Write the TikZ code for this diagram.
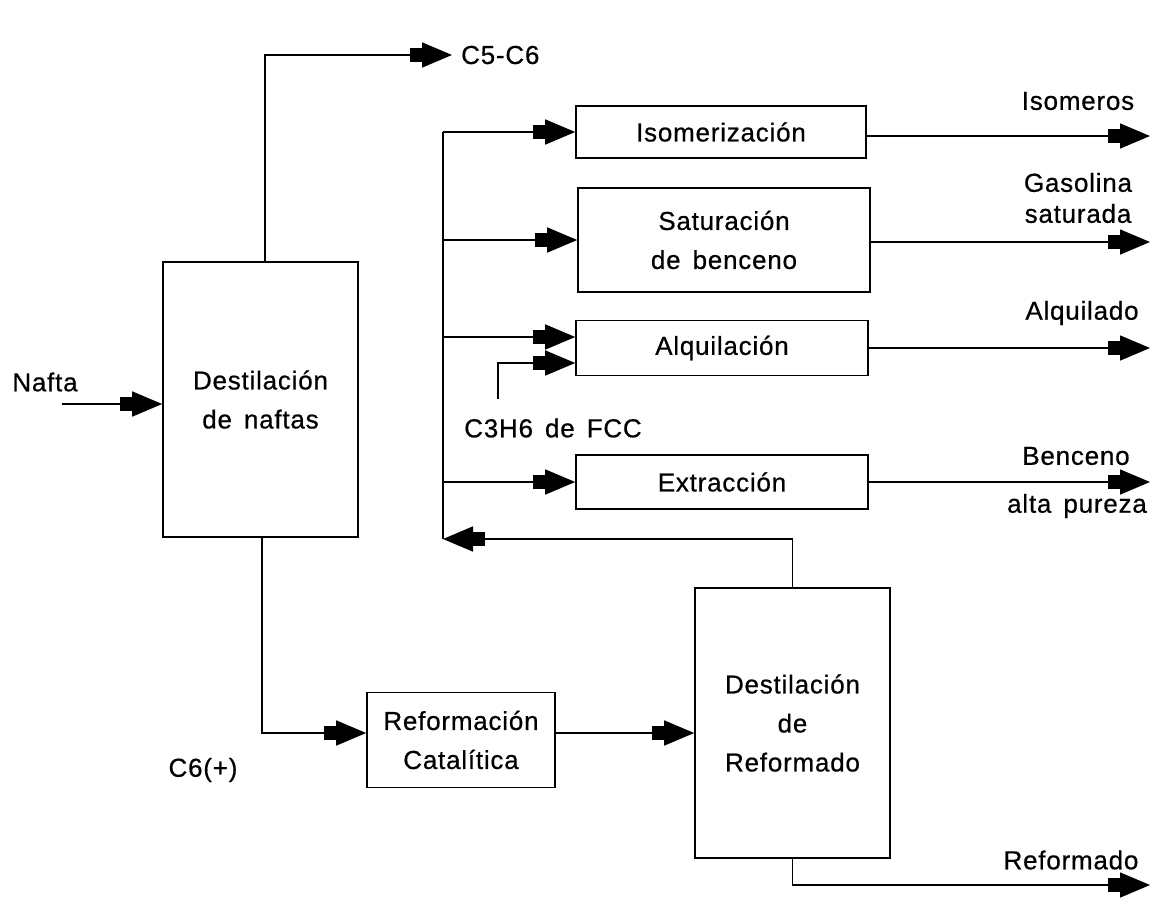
\documentclass[tikz,border=0pt]{standalone}
\usepackage{fontspec}
\setmainfont{Liberation Sans}[LetterSpace=3, WordSpace=1.5, FakeBold=0.6]
\usetikzlibrary{arrows.meta}

\tikzset{
  box/.style={draw, line width=1.6pt, inner sep=0pt, align=center,
              font=\fontsize{26}{39}\selectfont},
  lbl/.style={inner sep=0pt, align=center, font=\fontsize{26}{31}\selectfont},
  pipe/.style={line width=1.6pt},
  flow/.style={line width=1.6pt,
    -{Rectangle[length=12pt,width=14pt,sep=0pt]Triangle[length=30pt,width=25pt]}},
}

\begin{document}
\begin{tikzpicture}[x=1pt,y=-1pt]
\useasboundingbox (0,0) rectangle (1152,906);

% process units
\node[box, minimum width=195pt, minimum height=275pt] (destN) at (260.5,399.5)
  {Destilación\\de naftas};
\node[box, minimum width=188pt, minimum height=95pt] (reform) at (461,740)
  {Reformación\\Catalítica};
\node[box, minimum width=195pt, minimum height=270pt] (destR) at (792.5,723)
  {Destilación\\de\\Reformado};
\node[box, minimum width=290pt, minimum height=52pt] (iso) at (721,132)
  {Isomerización};
\node[box, minimum width=292pt, minimum height=104pt] (sat) at (724,240)
  {Saturación\\de benceno};
\node[box, minimum width=292pt, minimum height=55pt] (alq) at (722,348)
  {Alquilación};
\node[box, minimum width=292pt, minimum height=54pt] (ext) at (722,482)
  {Extracción};

% stream labels
\node[lbl] (lnafta) at (45,382) {Nafta};
\node[lbl, anchor=west] (lc56) at (461,55) {C5-C6};
\node[lbl] (lc6) at (203,770) {C6(+)};
\node[lbl] (lc3) at (553,428) {C3H6 de FCC};
\node[lbl] (liso) at (1078,101) {Isomeros};
\node[lbl] (lgas) at (1078,198) {Gasolina\\saturada};
\node[lbl] (lalq) at (1082,313) {Alquilado};
\node[lbl] (lben) at (1076,456) {Benceno};
\node[lbl] (lpur) at (1077,506) {alta pureza};
\node[lbl] (lref) at (1071,860) {Reformado};

% free ends of the streams
\coordinate (naftaIn) at (62,404);
\coordinate (c56Out) at (452,55);
\coordinate (busTop) at (443,132);
\coordinate (busBot) at (443,539);
\coordinate (c3In) at (498,399);
\coordinate (outX) at (1150,0);
\coordinate (refOut) at (1150,885);

% feed and naphtha splitter
\draw[flow] (naftaIn) -- (naftaIn -| destN.west);
\draw[flow] ([xshift=4.5pt]destN.north) |- (c56Out);
\draw[flow] ([xshift=1.5pt]destN.south) |- ([yshift=7pt]reform.west);
\draw[flow] ([yshift=7pt]reform.east) -- ([yshift=7pt]reform.east -| destR.west);

% reformate splitter: product and recycle to the distribution header
\draw[flow] (destR.south) |- (refOut);
\draw[flow] (destR.north) |- (busBot);
\draw[pipe] (busTop) -- (busBot);

% header to the upgrading units
\draw[flow] (busTop) -- (iso.west);
\draw[flow] (busTop |- sat.west) -- (sat.west);
\draw[flow] (busTop |- 0,337) -- ([yshift=11pt]alq.west);
\draw[flow] (c3In) |- ([yshift=-15pt]alq.west);
\draw[flow] (busTop |- ext.west) -- (ext.west);

% products
\draw[flow] ([yshift=-4pt]iso.east) -- ([yshift=-4pt]iso.east -| outX);
\draw[flow] ([yshift=-2pt]sat.east) -- ([yshift=-2pt]sat.east -| outX);
\draw[flow] (alq.east) -- (alq.east -| outX);
\draw[flow] (ext.east) -- (ext.east -| outX);
\end{tikzpicture}
\end{document}
